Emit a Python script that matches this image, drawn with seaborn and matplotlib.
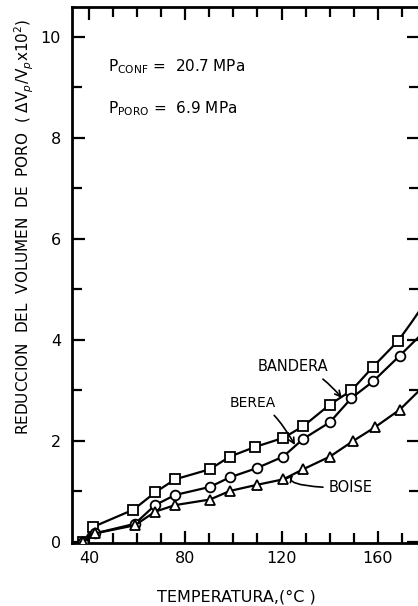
import matplotlib
matplotlib.use("Agg")
import matplotlib.pyplot as plt
import seaborn as sns
import numpy as np
import pandas as pd
from matplotlib.ticker import MultipleLocator, FixedLocator

# ---- data ----
temp_bandera = [37.6, 41.7, 58.4, 67.4, 75.7, 90.2, 98.5, 108.9, 120.7, 129.0, 140.1, 149.1, 158.1, 168.5]
red_bandera  = [0.00, 0.30, 0.64, 0.98, 1.24, 1.44, 1.69, 1.88, 2.06, 2.29, 2.72, 3.00, 3.47, 3.98]
end_bandera_t = [168.5, 174.1, 178.0]
end_bandera_r = [3.98, 4.35, 4.62]

temp_berea = [37.6, 42.4, 59.0, 67.4, 75.7, 90.2, 98.5, 109.6, 120.7, 129.0, 140.1, 149.1, 158.1, 169.2]
red_berea  = [0.00, 0.17, 0.36, 0.73, 0.93, 1.09, 1.28, 1.46, 1.69, 2.04, 2.37, 2.85, 3.18, 3.69]
end_berea_t = [169.2, 176.9, 178.0]
end_berea_r = [3.69, 4.05, 4.12]

temp_boise = [37.6, 42.4, 59.0, 67.4, 75.7, 90.2, 98.5, 109.6, 120.7, 129.0, 140.1, 149.8, 158.8, 169.2]
red_boise  = [0.00, 0.17, 0.33, 0.60, 0.73, 0.84, 1.01, 1.13, 1.24, 1.44, 1.69, 2.00, 2.27, 2.62]
end_boise_t = [169.2, 176.9, 178.0]
end_boise_r = [2.62, 2.98, 3.05]

x_ticklabels = [40, 80, 120, 160]
y_ticklabels = [0, 2, 4, 6, 8, 10]

sns.set_style("ticks")
plt.rcParams['font.family'] = ['DejaVu Sans']
plt.rcParams.update({'text.color': 'black', 'axes.labelcolor': 'black',
                     'xtick.color': 'black', 'ytick.color': 'black'})

fig = plt.figure(figsize=(4.18, 6.06), dpi=100)
ax = fig.add_axes([72/418, 63/606, 347.3/418, 536/606])

series = [
    (temp_bandera, red_bandera, end_bandera_t, end_bandera_r, 's'),
    (temp_berea, red_berea, end_berea_t, end_berea_r, 'o'),
    (temp_boise, red_boise, end_boise_t, end_boise_r, '^'),
]
for t, r, et, er, m in series:
    sns.lineplot(x=t, y=r, ax=ax, color='black', lw=1.6, sort=False,
                 marker=m, markersize=7, markerfacecolor='white',
                 markeredgecolor='black', markeredgewidth=1.3, zorder=3)
    sns.lineplot(x=et, y=er, ax=ax, color='black', lw=1.6, sort=False, zorder=2)

ax.set_xlim(32.85, 177.3)
ax.set_ylim(-0.02, 10.59)

ax.xaxis.set_major_locator(FixedLocator(x_ticklabels))
ax.xaxis.set_minor_locator(MultipleLocator(10))
ax.yaxis.set_major_locator(FixedLocator(y_ticklabels))
ax.yaxis.set_minor_locator(MultipleLocator(1))
ax.set_xticklabels([str(v) for v in x_ticklabels], fontsize=11.5)
ax.set_yticklabels([str(v) for v in y_ticklabels], fontsize=11.5)
ax.tick_params(which='both', direction='in', top=True, right=True,
               width=1.6, color='black', labelcolor='black')
ax.tick_params(which='major', length=9)
ax.tick_params(which='minor', length=7)
ax.tick_params(axis='x', pad=6)
ax.tick_params(axis='y', pad=8)
for s in ax.spines.values():
    s.set_linewidth(2)
    s.set_color('black')

ax.set_xlabel('TEMPERATURA,(°C )', fontsize=11.5, color='black')
ax.xaxis.set_label_coords((236-72)/347.3, -(590-543)/536)
ax.set_ylabel(r'REDUCCION  DEL  VOLUMEN  DE  PORO  ( $\Delta$V$_p$/V$_p$x10$^2$)',
              fontsize=11, color='black')
ax.yaxis.set_label_coords(-(72-36)/347.3, (543-227)/536)

ax.text(0.104, 0.888, r'P$_{\mathrm{CONF}}$ =  20.7 MPa', transform=ax.transAxes,
        fontsize=11, va='center', ha='left', color='black')
ax.text(0.104, 0.81, r'P$_{\mathrm{PORO}}$ =  6.9 MPa', transform=ax.transAxes,
        fontsize=11, va='center', ha='left', color='black')

arrow = dict(arrowstyle='->', color='black', lw=1.2, shrinkA=2, shrinkB=0)
ax.annotate('BANDERA', xy=(145.1, 2.85), xytext=(124.7, 3.47), fontsize=10.5,
            ha='center', va='center', color='black',
            arrowprops=dict(arrow, connectionstyle='angle3,angleA=0,angleB=-50'))
ax.annotate('BEREA', xy=(125.6, 1.92), xytext=(108.2, 2.75), fontsize=10,
            ha='center', va='center', color='black',
            arrowprops=dict(arrow, connectionstyle='angle3,angleA=0,angleB=-60'))
ax.annotate('BOISE', xy=(124.8, 1.33), xytext=(148.9, 1.07), fontsize=10.5,
            ha='center', va='center', color='black',
            arrowprops=dict(arrow, connectionstyle='angle3,angleA=0,angleB=50'))

fig.savefig('out.png', dpi=100)
